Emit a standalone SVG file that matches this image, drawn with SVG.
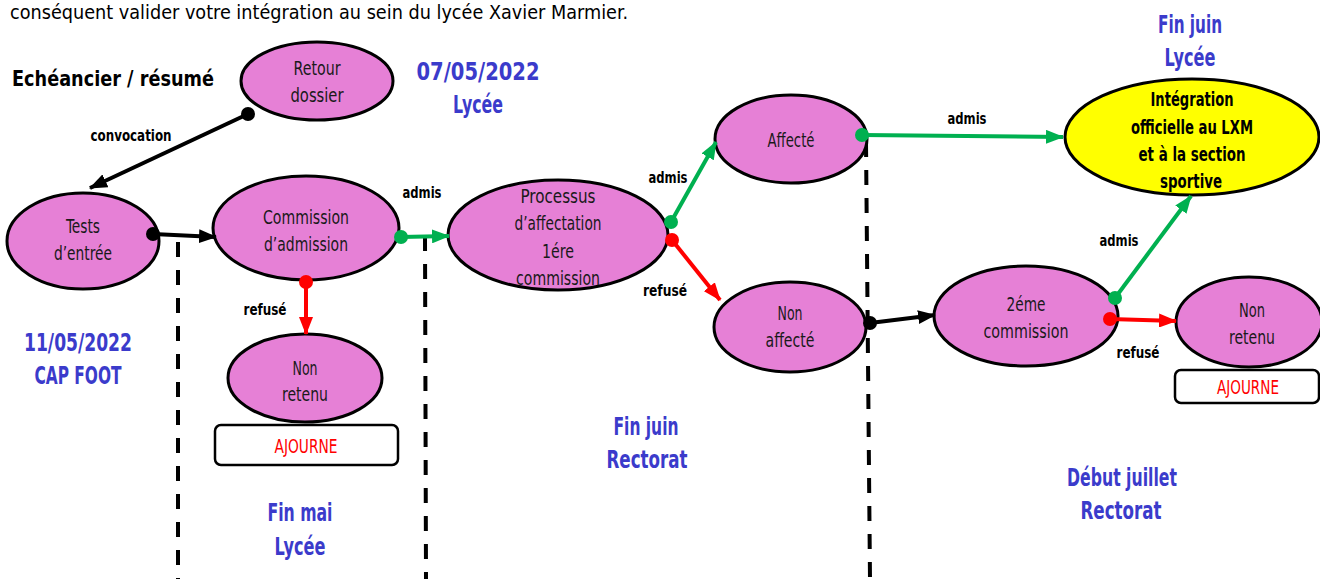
<svg xmlns="http://www.w3.org/2000/svg" width="1320" height="579" viewBox="0 0 1320 579">
<style>
text{font-family:"DejaVu Sans Condensed","DejaVu Sans",sans-serif;font-stretch:condensed;text-anchor:middle;dominant-baseline:central}
.n{fill:#E680D6;stroke:#000;stroke-width:3}
.y{fill:#FFFF00;stroke:#000;stroke-width:3}
.t{font-size:19px;fill:#1a1a1a}
.tb{font-size:19px;font-weight:bold;fill:#000}
.lb{font-size:16px;font-weight:bold;fill:#000}
.bl{font-size:25px;font-weight:bold;fill:#3B3BCB}
.aj{font-size:19px;fill:#FF0000}
.box{fill:#fff;stroke:#000;stroke-width:2.5}
.k{stroke:#000;stroke-width:4;fill:none}
.g{stroke:#00B050;stroke-width:4;fill:none}
.r{stroke:#FF0000;stroke-width:4;fill:none}
.dash{stroke:#000;stroke-width:4;stroke-dasharray:15 13;fill:none}
</style>
<defs>
<marker id="ak" markerUnits="userSpaceOnUse" markerWidth="18" markerHeight="14" refX="17" refY="7" orient="auto"><path d="M0,0 L18,7 L0,14 z" fill="#000"/></marker>
<marker id="ag" markerUnits="userSpaceOnUse" markerWidth="18" markerHeight="14" refX="17" refY="7" orient="auto"><path d="M0,0 L18,7 L0,14 z" fill="#00B050"/></marker>
<marker id="ar" markerUnits="userSpaceOnUse" markerWidth="18" markerHeight="14" refX="17" refY="7" orient="auto"><path d="M0,0 L18,7 L0,14 z" fill="#FF0000"/></marker>
</defs>
<rect width="1320" height="579" fill="#fff"/>
<text x="10" y="12" style="text-anchor:start;font-size:20px" fill="#000" textLength="618" lengthAdjust="spacingAndGlyphs">conséquent valider votre intégration au sein du lycée Xavier Marmier.</text>
<text x="12" y="78" style="text-anchor:start;font-size:22px;font-weight:bold" fill="#000" textLength="202" lengthAdjust="spacingAndGlyphs">Echéancier / résumé</text>

<g id="dashes">
<line class="dash" x1="178" y1="242" x2="178" y2="579"/>
<line class="dash" x1="425" y1="236" x2="426" y2="579"/>
<line class="dash" x1="866" y1="142" x2="870" y2="579"/>
</g>

<g id="retour"><ellipse class="n" cx="317" cy="81" rx="76" ry="39"/><text class="t" x="317" y="68" textLength="47" lengthAdjust="spacingAndGlyphs">Retour</text><text class="t" x="317" y="95" textLength="53" lengthAdjust="spacingAndGlyphs">dossier</text></g>
<g id="tests"><ellipse class="n" cx="83" cy="241" rx="76" ry="48"/><text class="t" x="83" y="226" textLength="34" lengthAdjust="spacingAndGlyphs">Tests</text><text class="t" x="83" y="253" textLength="58" lengthAdjust="spacingAndGlyphs">d’entrée</text></g>
<g id="commission"><ellipse class="n" cx="306" cy="228" rx="93" ry="52"/><text class="t" x="306" y="217" textLength="86" lengthAdjust="spacingAndGlyphs">Commission</text><text class="t" x="306" y="244" textLength="84" lengthAdjust="spacingAndGlyphs">d’admission</text></g>
<g id="nonretenu1"><ellipse class="n" cx="305" cy="378" rx="77" ry="44"/><text class="t" x="305" y="368" textLength="25" lengthAdjust="spacingAndGlyphs">Non</text><text class="t" x="305" y="394" textLength="46" lengthAdjust="spacingAndGlyphs">retenu</text></g>
<g id="ajourne1"><rect class="box" x="215" y="425" width="183" height="40" rx="6"/><text class="aj" x="306" y="446" textLength="63" lengthAdjust="spacingAndGlyphs">AJOURNE</text></g>
<g id="processus"><ellipse class="n" cx="558" cy="235" rx="110" ry="55"/><text class="t" x="558" y="196" textLength="75" lengthAdjust="spacingAndGlyphs">Processus</text><text class="t" x="558" y="223" textLength="87" lengthAdjust="spacingAndGlyphs">d’affectation</text><text class="t" x="558" y="251" textLength="32" lengthAdjust="spacingAndGlyphs">1ére</text><text class="t" x="558" y="278" textLength="84" lengthAdjust="spacingAndGlyphs">commission</text></g>
<g id="affecte"><ellipse class="n" cx="791" cy="139" rx="76" ry="44"/><text class="t" x="791" y="140" textLength="47" lengthAdjust="spacingAndGlyphs">Affecté</text></g>
<g id="nonaffecte"><ellipse class="n" cx="790" cy="327" rx="76" ry="45"/><text class="t" x="790" y="313" textLength="25" lengthAdjust="spacingAndGlyphs">Non</text><text class="t" x="790" y="340" textLength="49" lengthAdjust="spacingAndGlyphs">affecté</text></g>
<g id="integration"><ellipse class="y" cx="1192" cy="137" rx="127" ry="58"/><text class="tb" x="1192" y="99" textLength="83" lengthAdjust="spacingAndGlyphs">Intégration</text><text class="tb" x="1192" y="127" textLength="122" lengthAdjust="spacingAndGlyphs">officielle au LXM</text><text class="tb" x="1192" y="154" textLength="107" lengthAdjust="spacingAndGlyphs">et à la section</text><text class="tb" x="1191" y="181" textLength="62" lengthAdjust="spacingAndGlyphs">sportive</text></g>
<g id="commission2"><ellipse class="n" cx="1026" cy="316" rx="92" ry="50"/><text class="t" x="1026" y="304" textLength="39" lengthAdjust="spacingAndGlyphs">2éme</text><text class="t" x="1026" y="331" textLength="85" lengthAdjust="spacingAndGlyphs">commission</text></g>
<g id="nonretenu2"><ellipse class="n" cx="1249" cy="322" rx="73" ry="45"/><text class="t" x="1252" y="310" textLength="26" lengthAdjust="spacingAndGlyphs">Non</text><text class="t" x="1252" y="337" textLength="46" lengthAdjust="spacingAndGlyphs">retenu</text></g>
<g id="ajourne2"><rect class="box" x="1175" y="370" width="144" height="33" rx="6"/><text class="aj" x="1248" y="387" textLength="62" lengthAdjust="spacingAndGlyphs">AJOURNE</text></g>

<g id="connectors">
<line class="k" x1="248" y1="114" x2="90" y2="188" marker-end="url(#ak)"/><circle cx="248" cy="114" r="7"/>
<line class="k" x1="153" y1="234" x2="216" y2="237" marker-end="url(#ak)"/><circle cx="153" cy="234" r="7"/>
<line class="g" x1="401" y1="237" x2="449" y2="236" marker-end="url(#ag)"/><circle cx="401" cy="237" r="7" fill="#00B050"/>
<line class="r" x1="306" y1="282" x2="306" y2="334" marker-end="url(#ar)"/><circle cx="306" cy="282" r="7" fill="#FF0000"/>
<line class="g" x1="671" y1="222" x2="716" y2="142" marker-end="url(#ag)"/><circle cx="671" cy="222" r="7" fill="#00B050"/>
<line class="r" x1="672" y1="240" x2="720" y2="300" marker-end="url(#ar)"/><circle cx="672" cy="240" r="7" fill="#FF0000"/>
<line class="g" x1="862" y1="135" x2="1063" y2="137" marker-end="url(#ag)"/><circle cx="862" cy="135" r="7" fill="#00B050"/>
<line class="k" x1="870" y1="323" x2="935" y2="315" marker-end="url(#ak)"/><circle cx="870" cy="323" r="7"/>
<line class="g" x1="1115" y1="298" x2="1191" y2="196" marker-end="url(#ag)"/><circle cx="1115" cy="298" r="7" fill="#00B050"/>
<line class="r" x1="1110" y1="319" x2="1176" y2="321" marker-end="url(#ar)"/><circle cx="1110" cy="319" r="7" fill="#FF0000"/>
<text class="lb" x="131" y="135" textLength="81" lengthAdjust="spacingAndGlyphs">convocation</text>
<text class="lb" x="422" y="192" textLength="39" lengthAdjust="spacingAndGlyphs">admis</text>
<text class="lb" x="265" y="309" textLength="43" lengthAdjust="spacingAndGlyphs">refusé</text>
<text class="lb" x="668" y="177" textLength="39" lengthAdjust="spacingAndGlyphs">admis</text>
<text class="lb" x="665" y="290" textLength="44" lengthAdjust="spacingAndGlyphs">refusé</text>
<text class="lb" x="967" y="118" textLength="39" lengthAdjust="spacingAndGlyphs">admis</text>
<text class="lb" x="1119" y="240" textLength="39" lengthAdjust="spacingAndGlyphs">admis</text>
<text class="lb" x="1138" y="352" textLength="43" lengthAdjust="spacingAndGlyphs">refusé</text>
</g>

<g id="dates">
<text class="bl" x="478" y="71" textLength="123" lengthAdjust="spacingAndGlyphs">07/05/2022</text><text class="bl" x="478" y="104" textLength="50" lengthAdjust="spacingAndGlyphs">Lycée</text>
<text class="bl" x="1190" y="24" textLength="64" lengthAdjust="spacingAndGlyphs">Fin juin</text><text class="bl" x="1190" y="57" textLength="51" lengthAdjust="spacingAndGlyphs">Lycée</text>
<text class="bl" x="78" y="342" textLength="108" lengthAdjust="spacingAndGlyphs">11/05/2022</text><text class="bl" x="78" y="375" textLength="87" lengthAdjust="spacingAndGlyphs">CAP FOOT</text>
<text class="bl" x="300" y="512" textLength="65" lengthAdjust="spacingAndGlyphs">Fin mai</text><text class="bl" x="300" y="546" textLength="51" lengthAdjust="spacingAndGlyphs">Lycée</text>
<text class="bl" x="646" y="426" textLength="65" lengthAdjust="spacingAndGlyphs">Fin juin</text><text class="bl" x="647" y="459" textLength="81" lengthAdjust="spacingAndGlyphs">Rectorat</text>
<text class="bl" x="1122" y="477" textLength="110" lengthAdjust="spacingAndGlyphs">Début juillet</text><text class="bl" x="1121" y="510" textLength="81" lengthAdjust="spacingAndGlyphs">Rectorat</text>
</g>
</svg>
